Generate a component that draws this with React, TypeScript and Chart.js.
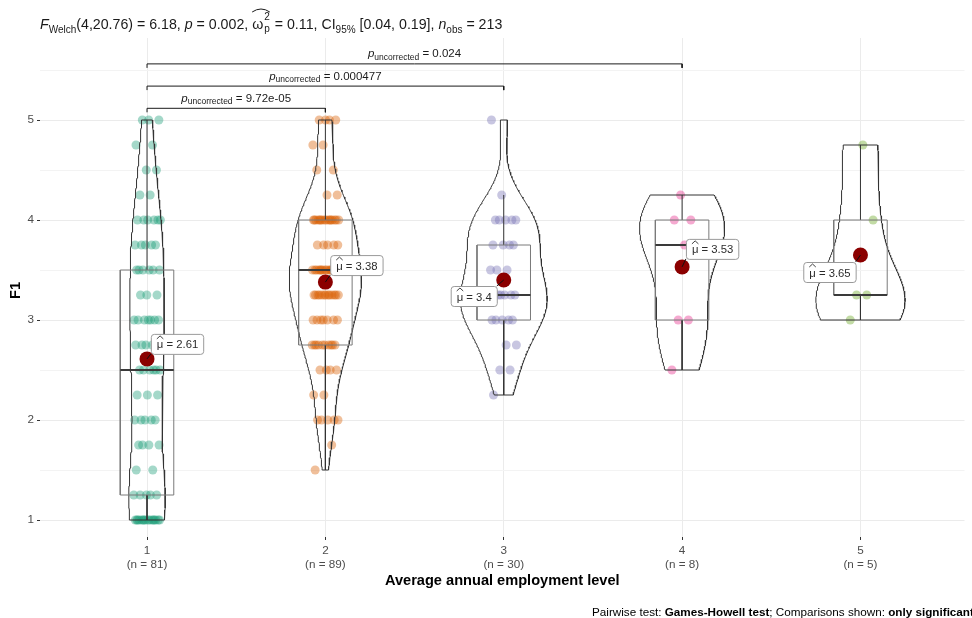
import React, { useEffect, useRef } from "react";
import { Chart, registerables } from "chart.js";

Chart.register(...registerables);

// F1 scores sit on a quarter-point grid
const LEVELS = [1, 1.25, 1.5, 1.75, 2, 2.25, 2.5, 2.75, 3, 3.25, 3.5, 3.75, 4, 4.25, 4.5, 4.75, 5];

// respondents at each F1 level, one list per employment level
const COUNTS_1 = [16, 5, 2, 4, 5, 3, 6, 4, 7, 3, 6, 5, 6, 2, 2, 2, 3];
const COUNTS_2 = [0, 0, 1, 1, 5, 2, 4, 10, 7, 13, 15, 5, 16, 2, 2, 2, 4];
const COUNTS_3 = [0, 0, 0, 0, 0, 1, 2, 2, 5, 6, 3, 4, 5, 1, 0, 0, 1];
const COUNTS_4 = [0, 0, 0, 0, 0, 0, 1, 0, 2, 0, 0, 2, 2, 1, 0, 0, 0];
const COUNTS_5 = [0, 0, 0, 0, 0, 0, 0, 0, 1, 2, 0, 0, 1, 0, 0, 1, 0];

const CATEGORIES = ["1", "2", "3", "4", "5"];
const Y_TICKS = [1, 2, 3, 4, 5];

// significant Games-Howell comparisons
const PAIR_FROM = [1, 1, 1];
const PAIR_TO = [2, 3, 4];
const PAIR_P = ["9.72e-05", "0.000477", "0.024"];

// Welch one-way ANOVA summary
const WELCH_DF = "4,20.76";
const WELCH_F = "6.18";
const WELCH_P = "0.002";
const OMEGA2 = "0.11";
const OMEGA2_CI = "[0.04, 0.19]";

const X_TITLE = "Average annual employment level";
const Y_TITLE = "F1";

// ---- look & layout ----
const FONT = "'Liberation Sans', Arial, Helvetica, sans-serif";
const COLORS = ["27,158,119", "217,95,2", "117,112,179", "231,41,138", "102,166,30"];
const MEAN_COLOR = "#8B0000";
const JITTER = 0.075;
const BOX_HALF = 0.15;
const VIOLIN_WIDTH = 0.5;
const BRACKET_BASE = 5.117;
const BRACKET_STEP = 0.222;
const BRACKET_TIP = 0.04;
// mean label placement, pixels from the mean point to the label centre
const LABEL_DX = [30, 31, -30, 30, -31];
const LABEL_DY = [-15, -17, 16, -18, 17];

const fnt = (size: number, bold = false, italic = false) =>
  `${italic ? "italic " : ""}${bold ? "bold " : ""}${size}px ${FONT}`;

// ---- statistics ----
const groups: number[][] = [COUNTS_1, COUNTS_2, COUNTS_3, COUNTS_4, COUNTS_5].map((counts) =>
  counts.flatMap((k, i) => Array(k).fill(LEVELS[i]))
);
const N = groups.map((g) => g.length);
const N_TOTAL = N.reduce((a, b) => a + b, 0);

const meanOf = (v: number[]) => v.reduce((a, b) => a + b, 0) / v.length;
const q7 = (s: number[], p: number) => {
  const h = (s.length - 1) * p;
  const lo = Math.floor(h);
  const hi = Math.min(lo + 1, s.length - 1);
  return s[lo] + (h - lo) * (s[hi] - s[lo]);
};
const nrd0 = (v: number[]) => {
  const n = v.length;
  const m = meanOf(v);
  const sd = Math.sqrt(v.reduce((a, x) => a + (x - m) ** 2, 0) / (n - 1));
  const s = [...v].sort((a, b) => a - b);
  const iqr = q7(s, 0.75) - q7(s, 0.25);
  let lo = Math.min(sd, iqr / 1.34);
  if (!(lo > 0)) lo = sd || 1;
  return 0.9 * lo * Math.pow(n, -0.2);
};
const dnorm = (z: number) => Math.exp(-0.5 * z * z) / Math.sqrt(2 * Math.PI);

const stats = groups.map((v) => {
  const s = [...v].sort((a, b) => a - b);
  const q1 = q7(s, 0.25);
  const med = q7(s, 0.5);
  const q3 = q7(s, 0.75);
  const iqr = q3 - q1;
  const lo = Math.min(...s.filter((x) => x >= q1 - 1.5 * iqr));
  const hi = Math.max(...s.filter((x) => x <= q3 + 1.5 * iqr));
  return { q1, med, q3, lo, hi, min: s[0], max: s[s.length - 1], mean: meanOf(v) };
});
const MEANS = stats.map((s) => s.mean);
const MEAN_TEXT = MEANS.map((m) => String(Number(m.toFixed(2))));

// kernel density of each group on its own range (trimmed violins)
const densities = groups.map((v, g) => {
  const bw = nrd0(v);
  const { min, max } = stats[g];
  const steps = 200;
  const pts: { y: number; d: number }[] = [];
  for (let k = 0; k <= steps; k++) {
    const y = min + ((max - min) * k) / steps;
    let d = 0;
    for (const x of v) d += dnorm((y - x) / bw);
    pts.push({ y, d: d / (v.length * bw) });
  }
  return pts;
});
const D_MAX = Math.max(...densities.flat().map((p) => p.d));

// ---- datasets ----
const lineDs = (data: { x: number; y: number }[], color: string, width: number, order: number) => ({
  data,
  showLine: true,
  borderColor: color,
  borderWidth: width,
  pointRadius: 0,
  pointHoverRadius: 0,
  fill: false,
  tension: 0,
  order,
});

const datasets: any[] = [];

groups.forEach((v, g) => {
  const cx = g + 1;
  const pts = v.map((y, i) => {
    const u = (0.5 + (i + 1) * 0.6180339887) % 1;
    return { x: cx + (u - 0.5) * 2 * JITTER, y };
  });
  datasets.push({
    data: pts,
    backgroundColor: `rgba(${COLORS[g]},0.4)`,
    borderWidth: 0,
    pointRadius: 4.5,
    pointHoverRadius: 4.5,
    order: 10,
  });
});

densities.forEach((pts, g) => {
  const cx = g + 1;
  const left = pts.map((p) => ({ x: cx - (VIOLIN_WIDTH / 2) * (p.d / D_MAX), y: p.y }));
  const right = pts.map((p) => ({ x: cx + (VIOLIN_WIDTH / 2) * (p.d / D_MAX), y: p.y })).reverse();
  datasets.push(lineDs([...left, ...right, left[0]], "#333333", 1, 6));
});

stats.forEach((s, g) => {
  const cx = g + 1;
  const a = cx - BOX_HALF;
  const b = cx + BOX_HALF;
  datasets.push(
    lineDs(
      [
        { x: a, y: s.q1 },
        { x: b, y: s.q1 },
        { x: b, y: s.q3 },
        { x: a, y: s.q3 },
        { x: a, y: s.q1 },
      ],
      "#7a7a7a",
      1,
      5
    )
  );
  datasets.push(lineDs([{ x: cx, y: s.q3 }, { x: cx, y: s.hi }], "#333333", 1, 5));
  datasets.push(lineDs([{ x: cx, y: s.q1 }, { x: cx, y: s.lo }], "#333333", 1, 5));
  datasets.push(lineDs([{ x: a, y: s.med }, { x: b, y: s.med }], "#3a3a3a", 2, 4));
});

PAIR_FROM.forEach((from, k) => {
  const to = PAIR_TO[k];
  const y = BRACKET_BASE + k * BRACKET_STEP;
  datasets.push(
    lineDs(
      [
        { x: from, y: y - BRACKET_TIP },
        { x: from, y },
        { x: to, y },
        { x: to, y: y - BRACKET_TIP },
      ],
      "#1a1a1a",
      1,
      4
    )
  );
});

datasets.push({
  data: MEANS.map((m, g) => ({ x: g + 1, y: m })),
  backgroundColor: MEAN_COLOR,
  borderWidth: 0,
  pointRadius: 7.5,
  pointHoverRadius: 7.5,
  order: 1,
});

// ---- text helpers ----
type Seg = {
  t?: string;
  size: number;
  italic?: boolean;
  bold?: boolean;
  dy?: number;
  stack?: [string, string];
  hat?: "start" | "end";
};

function drawRich(ctx: CanvasRenderingContext2D, segs: Seg[], x: number, y: number, align: "left" | "center", color: string) {
  const widths = segs.map((s) => {
    ctx.font = fnt(s.size, s.bold, s.italic);
    if (s.stack) return Math.max(ctx.measureText(s.stack[0]).width, ctx.measureText(s.stack[1]).width);
    return ctx.measureText(s.t || "").width;
  });
  const total = widths.reduce((a, b) => a + b, 0);
  let cx = align === "center" ? x - total / 2 : x;
  let hat0 = cx;
  ctx.fillStyle = color;
  ctx.textAlign = "left";
  ctx.textBaseline = "alphabetic";
  segs.forEach((s, i) => {
    ctx.font = fnt(s.size, s.bold, s.italic);
    if (s.hat === "start") hat0 = cx;
    if (s.stack) {
      ctx.fillText(s.stack[0], cx + 1, y - s.size * 0.95);
      ctx.fillText(s.stack[1], cx + 1, y + s.size * 0.3);
    } else {
      ctx.fillText(s.t || "", cx, y + (s.dy || 0));
    }
    if (s.hat === "end") {
      const x1 = cx + widths[i] + 1;
      const top = y - 20;
      ctx.save();
      ctx.strokeStyle = color;
      ctx.lineWidth = 1;
      ctx.beginPath();
      ctx.moveTo(hat0, top + 3);
      ctx.quadraticCurveTo((hat0 + x1) / 2, top - 3, x1, top + 3);
      ctx.stroke();
      ctx.restore();
    }
    cx += widths[i] + (s.stack ? 2 : 0);
  });
  return total;
}

function roundRect(ctx: CanvasRenderingContext2D, x: number, y: number, w: number, h: number, r: number) {
  ctx.beginPath();
  ctx.moveTo(x + r, y);
  ctx.lineTo(x + w - r, y);
  ctx.arcTo(x + w, y, x + w, y + r, r);
  ctx.lineTo(x + w, y + h - r);
  ctx.arcTo(x + w, y + h, x + w - r, y + h, r);
  ctx.lineTo(x + r, y + h);
  ctx.arcTo(x, y + h, x, y + h - r, r);
  ctx.lineTo(x, y + r);
  ctx.arcTo(x, y, x + r, y, r);
  ctx.closePath();
}

const overlay = {
  id: "overlay",
  afterDatasetsDraw(chart: any) {
    const ctx: CanvasRenderingContext2D = chart.ctx;
    const xs = chart.scales.x;
    const ys = chart.scales.y;

    // bracket p-values
    PAIR_FROM.forEach((from, k) => {
      const to = PAIR_TO[k];
      const yPix = ys.getPixelForValue(BRACKET_BASE + k * BRACKET_STEP);
      const mid = (xs.getPixelForValue(from) + xs.getPixelForValue(to)) / 2;
      drawRich(
        ctx,
        [
          { t: "p", size: 11.5, italic: true },
          { t: "uncorrected", size: 8.5, dy: 2.5 },
          { t: " = " + PAIR_P[k], size: 11.5 },
        ],
        mid,
        yPix - 6.5,
        "center",
        "#1a1a1a"
      );
    });

    // mean labels
    MEANS.forEach((m, g) => {
      const px = xs.getPixelForValue(g + 1);
      const py = ys.getPixelForValue(m);
      ctx.font = fnt(11.3);
      const muW = ctx.measureText("μ").width;
      const rest = " = " + MEAN_TEXT[g];
      const restW = ctx.measureText(rest).width;
      const w = muW + restW + 11;
      const h = 20;
      const bx = px + LABEL_DX[g] - w / 2;
      const by = py + LABEL_DY[g] - h / 2;
      const nx = Math.min(Math.max(px, bx), bx + w);
      const ny = Math.min(Math.max(py, by), by + h);
      ctx.save();
      ctx.strokeStyle = "#111";
      ctx.lineWidth = 1;
      ctx.beginPath();
      ctx.moveTo(px, py);
      ctx.lineTo(nx, ny);
      ctx.stroke();
      roundRect(ctx, bx + 0.5, by + 0.5, w, h, 3);
      ctx.fillStyle = "#ffffff";
      ctx.fill();
      ctx.strokeStyle = "#9a9a9a";
      ctx.stroke();
      const tx = bx + 6;
      const base = by + h / 2 + 4.5;
      ctx.fillStyle = "#2b2b2b";
      ctx.textAlign = "left";
      ctx.textBaseline = "alphabetic";
      ctx.fillText("μ", tx, base);
      ctx.fillText(rest, tx + muW, base);
      ctx.strokeStyle = "#2b2b2b";
      ctx.lineWidth = 0.9;
      ctx.beginPath();
      ctx.moveTo(tx, base - 9.5);
      ctx.lineTo(tx + muW / 2, base - 12.5);
      ctx.lineTo(tx + muW, base - 9.5);
      ctx.stroke();
      ctx.restore();
    });
  },
  afterDraw(chart: any) {
    const ctx: CanvasRenderingContext2D = chart.ctx;
    const area = chart.chartArea;
    ctx.save();

    // header with the Welch ANOVA result
    drawRich(
      ctx,
      [
        { t: "F", size: 14.2, italic: true },
        { t: "Welch", size: 10, dy: 3.5 },
        { t: `(${WELCH_DF}) = ${WELCH_F}, `, size: 14.2 },
        { t: "p", size: 14.2, italic: true },
        { t: ` = ${WELCH_P}, `, size: 14.2 },
        { t: "ω", size: 14.2, hat: "start" },
        { stack: ["2", "p"], size: 10, hat: "end" },
        { t: ` = ${OMEGA2}, CI`, size: 14.2 },
        { t: "95%", size: 10, dy: 3.5 },
        { t: ` ${OMEGA2_CI}, `, size: 14.2 },
        { t: "n", size: 14.2, italic: true },
        { t: "obs", size: 10, dy: 3.5 },
        { t: ` = ${N_TOTAL}`, size: 14.2 },
      ],
      area.left,
      29,
      "left",
      "#1a1a1a"
    );

    // axis titles
    ctx.fillStyle = "#000";
    ctx.font = fnt(14.6, true);
    ctx.textAlign = "center";
    ctx.textBaseline = "middle";
    ctx.fillText(X_TITLE, (area.left + area.right) / 2, 581);
    ctx.save();
    ctx.translate(15.5, (area.top + area.bottom) / 2 + 3);
    ctx.rotate(-Math.PI / 2);
    ctx.fillText(Y_TITLE, 0, 0);
    ctx.restore();

    // caption
    drawRich(
      ctx,
      [
        { t: "Pairwise test: ", size: 11.7 },
        { t: "Games-Howell test", size: 11.7, bold: true },
        { t: "; Comparisons shown: ", size: 11.7 },
        { t: "only significant", size: 11.7, bold: true },
      ],
      592,
      616,
      "left",
      "#000"
    );
    ctx.restore();
  },
};

export default function App() {
  const ref = useRef<HTMLCanvasElement>(null);

  useEffect(() => {
    document.body.style.margin = "0";
    const canvas = ref.current;
    if (!canvas) return;
    const chart = new Chart(canvas, {
      type: "scatter",
      data: { datasets },
      options: {
        animation: false,
        responsive: false,
        maintainAspectRatio: false,
        events: [],
        layout: { padding: { top: 38, right: 0, left: 0, bottom: 0 } },
        plugins: {
          legend: { display: false },
          tooltip: { enabled: false },
          title: { display: false },
        },
        scales: {
          x: {
            type: "linear",
            min: 0.4,
            max: 5.5833,
            afterFit: (s: any) => {
              s.height = 81;
            },
            afterBuildTicks: (s: any) => {
              s.ticks = CATEGORIES.map((_, i) => ({ value: i + 1 }));
            },
            ticks: {
              autoSkip: false,
              maxRotation: 0,
              minRotation: 0,
              padding: 4,
              color: "#4D4D4D",
              font: { family: FONT, size: 11.7, lineHeight: 1.2 },
              callback: (value: any) => {
                const i = Math.round(Number(value)) - 1;
                return [CATEGORIES[i], `(n = ${N[i]})`];
              },
            },
            grid: { color: "#EBEBEB", tickColor: "#333333", tickLength: 3, lineWidth: 1 },
            border: { display: false },
          },
          y: {
            type: "linear",
            min: 0.83,
            max: 5.82,
            afterFit: (s: any) => {
              s.width = 40;
            },
            afterBuildTicks: (s: any) => {
              const t: { value: number }[] = [];
              Y_TICKS.forEach((v) => {
                t.push({ value: v });
                t.push({ value: v + 0.5 });
              });
              s.ticks = t;
            },
            ticks: {
              padding: 3,
              color: "#4D4D4D",
              font: { family: FONT, size: 11.7 },
              callback: (value: any) => (Number.isInteger(Number(value)) ? String(value) : ""),
            },
            grid: {
              color: (c: any) => (c.tick && !Number.isInteger(c.tick.value) ? "#F3F3F3" : "#EBEBEB"),
              tickColor: (c: any) => (c.tick && !Number.isInteger(c.tick.value) ? "rgba(0,0,0,0)" : "#333333"),
              tickLength: 3,
              lineWidth: 1,
            },
            border: { display: false },
          },
        },
      },
      plugins: [overlay],
    } as any);
    return () => chart.destroy();
  }, []);

  return <canvas ref={ref} width={972} height={618} style={{ display: "block" }} />;
}
